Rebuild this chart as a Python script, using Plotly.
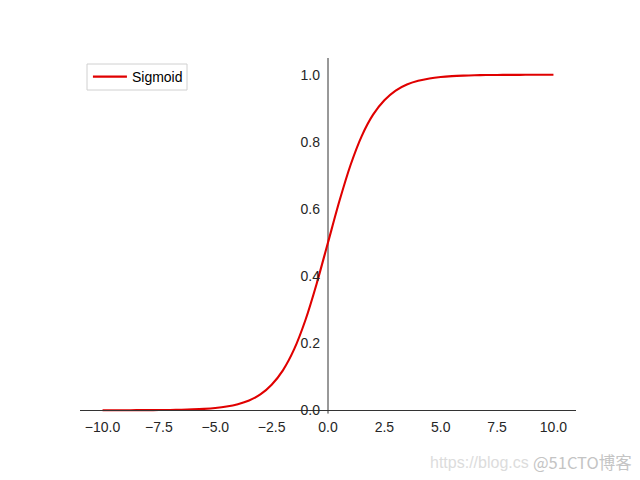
import plotly.graph_objects as go

x_vals = [-10.0, -9.5, -9.0, -8.5, -8.0, -7.5, -7.0, -6.5, -6.0, -5.5, -5.0, -4.5, -4.0,
          -3.5, -3.0, -2.5, -2.0, -1.5, -1.0, -0.5, 0.0, 0.5, 1.0, 1.5, 2.0, 2.5, 3.0,
          3.5, 4.0, 4.5, 5.0, 5.5, 6.0, 6.5, 7.0, 7.5, 8.0, 8.5, 9.0, 9.5, 10.0]
sigmoid_vals = [0.00005, 0.0001, 0.0001, 0.0002, 0.0003, 0.0006, 0.0009, 0.0015, 0.0025,
                0.0041, 0.0067, 0.011, 0.018, 0.029, 0.047, 0.076, 0.119, 0.182, 0.269,
                0.378, 0.500, 0.622, 0.731, 0.818, 0.881, 0.924, 0.953, 0.971, 0.982,
                0.989, 0.9933, 0.9959, 0.9975, 0.9985, 0.9991, 0.9994, 0.9997, 0.9998,
                0.9999, 0.9999, 0.99995]
x_ticks = [-10.0, -7.5, -5.0, -2.5, 0.0, 2.5, 5.0, 7.5, 10.0]
y_ticks = [0.0, 0.2, 0.4, 0.6, 0.8, 1.0]

FONT = "Liberation Sans, Arial, sans-serif"

fig = go.Figure()
fig.add_trace(go.Scatter(x=x_vals, y=sigmoid_vals, mode="lines", name="Sigmoid",
                         line=dict(color="#e00000", width=2.1, shape="spline", smoothing=0.8)))

fig.update_layout(
    width=640, height=480,
    margin=dict(l=80, r=64, t=58, b=53),
    paper_bgcolor="white", plot_bgcolor="white",
    font=dict(family=FONT, size=14, color="#262626"),
    showlegend=True,
    legend=dict(x=0.016, y=(427 - 77) / 369, xanchor="left", yanchor="middle",
                borderwidth=0, bgcolor="rgba(0,0,0,0)", itemwidth=34,
                font=dict(size=14, color="black")),
    xaxis=dict(range=[-11, 11], tickvals=x_ticks, ticktext=[f"{v:.1f}".replace("-", "\u2212") for v in x_ticks],
               showgrid=False, zeroline=False, showline=True, linecolor="#333333", linewidth=1,
               anchor="free", position=0.05 / 1.1, ticks="", ticklabelstandoff=4),
    yaxis=dict(range=[-0.05, 1.05], tickvals=y_ticks, ticktext=[f"{v:.1f}" for v in y_ticks],
               showgrid=False, zeroline=False, showline=False,
               anchor="free", position=0.5, ticks="", ticklabelstandoff=8),
)

# y spine at x = 0
fig.add_shape(type="line", xref="x", yref="y", x0=0, x1=0, y0=-0.01, y1=1.05,
              line=dict(color="#333333", width=1), layer="below")
# legend frame
fig.add_shape(type="rect", xref="paper", yref="paper",
              x0=(87 - 80) / 496, x1=(187 - 80) / 496,
              y0=(427 - 90) / 369, y1=(427 - 64) / 369,
              line=dict(color="#d0d0d0", width=1), fillcolor="white", layer="below")

fig.add_annotation(xref="paper", yref="paper", x=(531 - 80) / 496, y=(427 - 462) / 369,
                   xanchor="right", yanchor="middle",
                   text="https://blog.cs", showarrow=False,
                   font=dict(family=FONT, size=16, color="#dcdcdc"))
fig.add_annotation(xref="paper", yref="paper", x=(531 - 80) / 496, y=(427 - 462) / 369,
                   xanchor="left", yanchor="middle",
                   text="@51CTO博客", showarrow=False,
                   font=dict(family="Noto Sans CJK SC, " + FONT, size=16.5, color="#c4c4c4"))

fig.write_html("out.html")
